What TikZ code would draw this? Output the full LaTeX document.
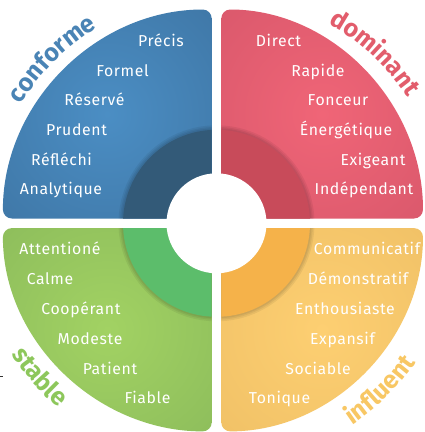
\documentclass[tikz,border=0pt]{standalone}
\usepackage{fontspec}
\usetikzlibrary{decorations.text}
\newfontfamily\wordfont[LetterSpace=4]{Fira Sans}
\newfontfamily\labfont[LetterSpace=2]{Fira Sans}
\definecolor{blueL}{HTML}{4B8EC4}
\definecolor{blueD}{HTML}{3B6F9C}
\definecolor{blueR}{HTML}{335A78}
\definecolor{blueT}{HTML}{4A84B5}
\definecolor{redL}{HTML}{F06577}
\definecolor{redD}{HTML}{D25468}
\definecolor{redR}{HTML}{C84B5A}
\definecolor{redT}{HTML}{E25D6C}
\definecolor{greenL}{HTML}{A2D263}
\definecolor{greenD}{HTML}{86B659}
\definecolor{greenR}{HTML}{5CBD6B}
\definecolor{greenT}{HTML}{8DC75B}
\definecolor{yelL}{HTML}{FDCF72}
\definecolor{yelD}{HTML}{ECBC62}
\definecolor{yelR}{HTML}{F5B24A}
\definecolor{yelT}{HTML}{F8C764}
\pgfdeclareradialshading{shBlue}{\pgfpoint{0bp}{0bp}}{color(0bp)=(blueL); color(50bp)=(blueD)}
\pgfdeclareradialshading{shRed}{\pgfpoint{0bp}{0bp}}{color(0bp)=(redL); color(50bp)=(redD)}
\pgfdeclareradialshading{shGreen}{\pgfpoint{0bp}{0bp}}{color(0bp)=(greenL); color(50bp)=(greenD)}
\pgfdeclareradialshading{shYel}{\pgfpoint{0bp}{0bp}}{color(0bp)=(yelL); color(50bp)=(yelD)}
\tikzset{
  word/.style={text=white, font=\wordfont\fontsize{15.8}{15.8}\selectfont, anchor=base, inner sep=0pt},
  quad/.style={rounded corners=9pt},
  halo/.style={fill=black, opacity=0.06},
}
\begin{document}
\begin{tikzpicture}[x=1pt,y=1pt]
\useasboundingbox (-216.5,-208.7) rectangle (207.5,223.3);
\clip (-216.5,-208.7) rectangle (207.5,223.3);
\fill[white] (-216.5,-208.7) rectangle (207.5,223.3);
% quadrant shapes
\def\qB{(-4.8,4.8) -- (-4.8,213.8) arc[start angle=90,end angle=180,x radius=208.8,y radius=209] -- cycle}
\def\qR{(4.8,4.8) -- (4.8,213.8) arc[start angle=90,end angle=0,x radius=201.7,y radius=209] -- cycle}
\def\qG{(-4.8,-4.8) -- (-4.8,-208.1) arc[start angle=270,end angle=180,x radius=208.8,y radius=203.3] -- cycle}
\def\qY{(4.8,-4.8) -- (4.8,-208.1) arc[start angle=270,end angle=360,x radius=201.7,y radius=203.3] -- cycle}
\shade[quad, shading=shBlue] \qB;
\shade[quad, shading=shRed] \qR;
\shade[quad, shading=shGreen] \qG;
\shade[quad, shading=shYel] \qY;
% inner rings
\begin{scope}
\clip[quad] \qB;
\fill[halo] (0,0) circle (98); \fill[halo] (0,0) circle (96.4); \fill[halo] (0,0) circle (95);
\fill[blueR] (0,0) circle (93.5);
\end{scope}
\begin{scope}
\clip[quad] \qR;
\fill[halo] (0,0) circle (98); \fill[halo] (0,0) circle (96.4); \fill[halo] (0,0) circle (95);
\fill[redR] (0,0) circle (93.5);
\end{scope}
\begin{scope}
\clip[quad] \qG;
\fill[halo] (0,0) circle (98); \fill[halo] (0,0) circle (96.4); \fill[halo] (0,0) circle (95);
\fill[greenR] (0,0) circle (93.5);
\end{scope}
\begin{scope}
\clip[quad] \qY;
\fill[halo] (0,0) circle (98); \fill[halo] (0,0) circle (96.4); \fill[halo] (0,0) circle (95);
\fill[yelR] (0,0) circle (93.5);
\end{scope}
\fill[white] (0,0) circle (50);
% words: conforme
\node[word] (c1) at (-55.5,176.6) {Précis};
\node[word] (c2) at (-94,147) {Formel};
\node[word] (c3) at (-122,117.4) {Réservé};
\node[word] (c4) at (-140,87.8) {Prudent};
\node[word] (c5) at (-155,58.2) {Réfléchi};
\node[word] (c6) at (-155.5,28.6) {Analytique};
% dominant
\node[word] (d1) at (62,176.6) {Direct};
\node[word] (d2) at (101.5,147) {Rapide};
\node[word] (d3) at (121.5,117.4) {Fonceur};
\node[word] (d4) at (129.5,87.8) {Énergétique};
\node[word] (d5) at (156.5,58.2) {Exigeant};
\node[word] (d6) at (147.5,28.6) {Indépendant};
% stable
\node[word] (s1) at (-156.5,-31.5) {Attentioné};
\node[word] (s2) at (-166.5,-61.5) {Calme};
\node[word] (s3) at (-135.5,-91.5) {Coopérant};
\node[word] (s4) at (-126.5,-121.5) {Modeste};
\node[word] (s5) at (-106.5,-151.5) {Patient};
\node[word] (s6) at (-69,-180.5) {Fiable};
% influent
\node[word] (i1) at (150.5,-31.5) {Communicatif};
\node[word] (i2) at (141.5,-61.5) {Démonstratif};
\node[word] (i3) at (128.5,-91.5) {Enthousiaste};
\node[word] (i4) at (126,-121.5) {Expansif};
\node[word] (i5) at (101.5,-151.5) {Sociable};
\node[word] (i6) at (63,-180.5) {Tonique};
% curved labels
\path[decorate, decoration={text along path, text align=center,
  text={|\labfont\bfseries\fontsize{25}{25}\selectfont\color{blueT}|conforme}}]
  (165:229) arc[start angle=165, end angle=105, radius=229];
\path[decorate, decoration={text along path, text align=center,
  text={|\labfont\bfseries\fontsize{25}{25}\selectfont\color{redT}|dominant}}]
  (77:229) arc[start angle=77, end angle=17, radius=229];
\path[decorate, decoration={text along path, text align=center,
  text={|\labfont\bfseries\fontsize{25}{25}\selectfont\color{greenT}|stable}}]
  (191:243) arc[start angle=191, end angle=251, radius=243];
\path[decorate, decoration={text along path, text align=center,
  text={|\labfont\bfseries\fontsize{25}{25}\selectfont\color{yelT}|influent}}]
  (-75.5:243) arc[start angle=-75.5, end angle=-15.5, radius=243];
% small mark at left edge
\draw[black!80, line width=0.8pt] (-216.5,-152.7) -- (-213.6,-152.7);
\end{tikzpicture}
\end{document}
